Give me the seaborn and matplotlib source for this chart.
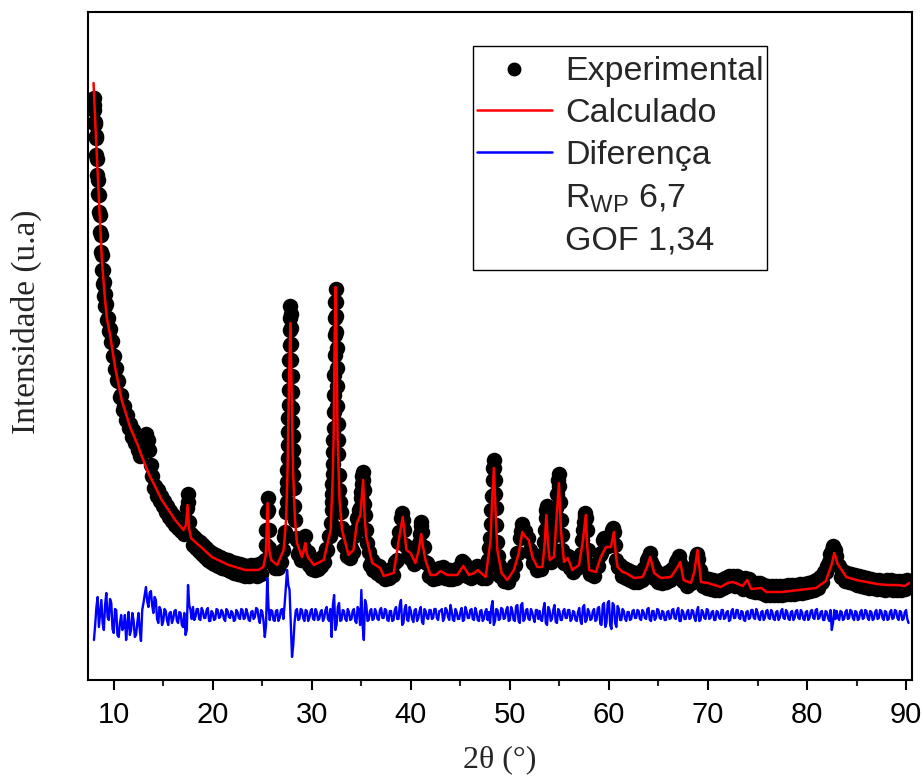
import numpy as np
import pandas as pd
import matplotlib
matplotlib.use("Agg")
import matplotlib.pyplot as plt
from matplotlib.lines import Line2D
from matplotlib.patches import Rectangle
from matplotlib.ticker import MultipleLocator
import seaborn as sns

# ---------------- data (intensity in arbitrary units) ----------------
calc_2theta = [7.96, 8.2, 8.47, 8.8, 9.12, 9.3, 9.63, 10.13, 10.8, 11.65, 12.5, 12.66, 13.5, 14.85,
               16.2, 17.04, 17.3, 17.45, 17.6, 17.8, 18.55, 18.7, 19.9, 21.6, 23.3, 24.6, 25.1, 25.35,
               25.53, 25.7, 25.9, 26.5, 27.15, 27.4, 27.55, 27.7, 27.83, 27.95, 28.1, 28.3, 28.5, 29.0,
               29.2, 29.34, 29.45, 29.6, 30.2, 31.2, 31.9, 32.1, 32.2, 32.3, 32.4, 32.5, 32.6, 32.8,
               33.05, 33.7, 34.2, 34.55, 34.9, 35.18, 35.35, 35.5, 36.1, 36.9, 37.26, 38.27, 38.78,
               39.18, 39.55, 39.96, 40.46, 40.8, 41.04, 41.2, 41.47, 41.98, 42.5, 43.0, 43.67, 44.68,
               45.29, 45.86, 46.4, 46.77, 47.2, 47.55, 48.05, 48.2, 48.38, 48.55, 48.73, 49.16, 49.74,
               50.4, 50.9, 51.25, 51.58, 51.9, 52.27, 52.77, 53.28, 53.5, 53.68, 53.85, 54.02, 54.45,
               54.7, 54.95, 55.15, 55.46, 55.86, 56.3, 56.98, 57.38, 57.66, 57.8, 58.0, 58.68, 59.18,
               59.7, 60.2, 60.5, 60.7, 60.87, 61.37, 61.7, 62.55, 63.4, 63.84, 64.16, 64.57, 65.24,
               66.26, 66.93, 67.2, 67.53, 68.27, 68.6, 68.95, 69.3, 69.96, 70.64, 71.3, 71.98, 72.49,
               72.8, 73.5, 73.96, 74.37, 75.4, 75.9, 77.45, 79.17, 80.9, 81.9, 82.5, 82.75, 83.1,
               83.96, 84.98, 86.0, 87.05, 88.1, 89.1, 89.9, 90.3]
calc_int = [597, 543, 487, 420, 380, 362, 345, 313, 280, 253, 233, 228, 207, 180,
            160, 150, 155, 175, 152, 142, 135, 134, 123, 115, 110, 110, 113, 125,
            177, 130, 120, 115, 130, 160, 210, 300, 357, 290, 210, 160, 137, 123,
            130, 137, 128, 123, 115, 120, 150, 200, 243, 340, 393, 330, 243, 180,
            150, 125, 130, 157, 165, 200, 160, 143, 117, 112, 104, 107, 140,
            163, 130, 127, 117, 130, 146, 135, 120, 105, 105, 109, 105, 105,
            114, 105, 107, 110, 106, 103, 140, 180, 212, 170, 130, 107, 100,
            110, 127, 148, 143, 140, 123, 113, 113, 135, 165, 135, 120, 123,
            160, 197, 150, 118, 122, 110, 115, 140, 165, 135, 110, 108, 123,
            133, 133, 148, 125, 113, 108, 107, 102, 103, 113, 123, 107, 102,
            103, 113, 118, 100, 97, 107, 130, 98, 97, 95, 93, 97, 98,
            97, 94, 100, 91, 92, 88, 88, 90, 92, 99, 116, 127, 116,
            103, 100, 98, 96, 95, 95, 94, 97]

exp_2theta = [
    7.97, 8.0, 8.04, 8.08, 8.12, 8.16, 8.2, 8.25, 8.3, 8.35, 8.4, 8.45, 8.5, 8.55, 8.6, 8.65,
    8.7, 8.75, 8.8, 8.85, 8.9, 8.95, 9.0, 9.05, 9.1, 9.15, 9.2, 9.3, 9.4, 9.5, 9.6, 9.7,
    9.8, 9.9, 10.0, 10.1, 10.2,
    10.3, 10.45, 10.6, 10.75, 10.9, 11.05, 11.2, 11.35, 11.5, 11.65, 11.8, 11.95, 12.1, 12.25,
    12.4, 12.55, 12.7, 12.85, 13.0, 13.15, 13.3, 13.45, 13.6, 13.75, 13.9, 14.05, 14.2, 14.35,
    14.5, 14.65, 14.8, 14.95, 15.1, 15.25, 15.4, 15.55, 15.7, 15.85, 16.0, 16.15, 16.3, 16.45,
    16.6, 16.75, 16.9, 17.05,
    17.2, 17.3, 17.38, 17.45, 17.52, 17.6, 17.7,
    17.85, 18.0, 18.15, 18.3, 18.45, 18.6, 18.75, 18.9, 19.05, 19.2, 19.35, 19.5, 19.65, 19.8,
    19.95, 20.1, 20.3, 20.5, 20.7, 20.9, 21.1, 21.3, 21.5, 21.7, 21.9, 22.1, 22.3, 22.5, 22.7,
    22.9, 23.1, 23.3, 23.5, 23.7, 23.9, 24.1, 24.3, 24.5, 24.7, 24.9, 25.1,
    25.25, 25.35, 25.42, 25.47, 25.53, 25.58, 25.63, 25.7, 25.8, 25.95,
    26.1, 26.25, 26.4, 26.55, 26.7, 26.85, 27.0, 27.1, 27.2, 27.3, 27.4,
    27.45, 27.475, 27.5, 27.525, 27.55, 27.575, 27.6, 27.625, 27.65, 27.675, 27.7, 27.725,
    27.75, 27.775, 27.8, 27.825, 27.85, 27.875, 27.9, 27.925, 27.95, 27.975, 28.0, 28.025,
    28.05, 28.075, 28.1, 28.125, 28.15, 28.2,
    28.3, 28.4, 28.5, 28.65, 28.8, 28.95, 29.1, 29.25, 29.35, 29.45, 29.6, 29.75, 29.9, 30.05,
    30.2, 30.35, 30.5, 30.65, 30.8, 30.95, 31.1, 31.25, 31.4, 31.55, 31.7, 31.8, 31.9,
    32.0, 32.025, 32.05, 32.075, 32.1, 32.125, 32.15, 32.175, 32.2, 32.225, 32.25, 32.275,
    32.3, 32.325, 32.35, 32.375, 32.4, 32.425, 32.45, 32.475, 32.5, 32.525, 32.55, 32.575,
    32.6, 32.625, 32.65, 32.7, 32.75, 32.8,
    32.9, 33.0, 33.1, 33.25, 33.4, 33.55, 33.7, 33.85, 34.0, 34.15, 34.3, 34.45, 34.55, 34.65,
    34.75, 34.85, 34.95,
    35.0, 35.05, 35.1, 35.15, 35.2, 35.25, 35.3, 35.35, 35.45, 35.6,
    35.75, 35.9, 36.05, 36.2, 36.4, 36.6, 36.8, 37.0, 37.2, 37.4, 37.6, 37.8, 38.0, 38.2,
    38.4, 38.55, 38.7,
    38.85, 39.0, 39.1, 39.2, 39.3, 39.45, 39.6, 39.75, 39.9, 40.05, 40.2, 40.35, 40.5, 40.65,
    40.8, 40.9, 40.98, 41.05, 41.15, 41.3, 41.45,
    41.6, 41.8, 42.0, 42.2, 42.4, 42.6, 42.8, 43.0, 43.2, 43.4, 43.6, 43.8, 44.0, 44.2, 44.4,
    44.6, 44.8, 45.0, 45.2, 45.35, 45.5, 45.7, 45.9, 46.1, 46.3, 46.5, 46.7, 46.85, 47.0,
    47.2, 47.4, 47.55,
    47.7, 47.8, 47.9, 47.97, 48.05, 48.12, 48.18, 48.25, 48.3, 48.35, 48.4, 48.45, 48.5,
    48.55, 48.62, 48.7, 48.8, 48.9,
    49.05, 49.2, 49.4, 49.6, 49.8, 50.0, 50.2, 50.4, 50.55, 50.7, 50.85, 51.0, 51.15, 51.25,
    51.4, 51.55, 51.7, 51.85, 52.0, 52.15, 52.3, 52.5, 52.7, 52.9, 53.1,
    53.25, 53.35, 53.45, 53.52, 53.6, 53.65, 53.7, 53.75, 53.8, 53.9, 54.0, 54.15, 54.3,
    54.45, 54.55, 54.62, 54.7, 54.77, 54.85, 54.92, 55.0, 55.07, 55.15, 55.22, 55.3,
    55.45, 55.6, 55.75, 55.9, 56.05, 56.2, 56.4, 56.6, 56.8, 57.0, 57.15,
    57.3, 57.4, 57.48, 57.55, 57.62, 57.68, 57.75, 57.85, 57.95,
    58.1, 58.3, 58.5, 58.7, 58.9, 59.05, 59.2, 59.35, 59.5, 59.65, 59.8, 59.95, 60.1, 60.25,
    60.35, 60.42, 60.5, 60.6, 60.75, 60.9,
    61.1, 61.3, 61.5, 61.7, 61.9, 62.1, 62.3, 62.5, 62.7, 62.9, 63.1, 63.3, 63.5, 63.65, 63.8,
    63.95, 64.1, 64.25, 64.4, 64.55, 64.75, 64.95, 65.15, 65.35, 65.55, 65.75, 65.95, 66.15,
    66.35, 66.55, 66.75, 66.9, 67.05, 67.2, 67.35, 67.5, 67.7, 67.9, 68.1, 68.3, 68.45, 68.6,
    68.75, 68.9, 69.0, 69.15, 69.3, 69.5, 69.7, 69.9, 70.1, 70.3, 70.5, 70.7, 70.9, 71.1,
    71.3, 71.5, 71.7, 71.9, 72.1, 72.3, 72.5, 72.7, 72.9, 73.1, 73.3, 73.5, 73.7, 73.9, 74.1,
    74.3, 74.5, 74.7, 74.9, 75.1, 75.3, 75.5, 75.7, 75.9, 76.1, 76.3, 76.5, 76.7, 76.9, 77.1,
    77.3, 77.5, 77.7, 77.9, 78.1, 78.3, 78.5, 78.7, 78.9, 79.1, 79.3, 79.5, 79.7, 79.9, 80.1,
    80.3, 80.5, 80.7, 80.9, 81.1, 81.3, 81.5, 81.7, 81.9, 82.05, 82.2, 82.35, 82.5, 82.65,
    82.8, 82.95, 83.1, 83.25, 83.45, 83.65, 83.85, 84.05, 84.25, 84.45, 84.65, 84.85, 85.05,
    85.25, 85.45, 85.65, 85.85, 86.05, 86.25, 86.45, 86.65, 86.85, 87.05, 87.25, 87.45, 87.65,
    87.85, 88.05, 88.25, 88.45, 88.65, 88.85, 89.05, 89.25, 89.45, 89.65, 89.85, 90.05, 90.25]
exp_int = [
    582, 575, 570, 558, 556, 544, 542, 525, 521, 505, 500, 486, 485, 468, 465, 448,
    445, 428, 425, 410, 410, 396, 398, 384, 386, 374, 376, 360, 362, 349, 351, 338,
    339, 324, 324, 311, 312,
    300, 299, 283, 285, 270, 274, 260, 265, 252, 256, 243, 250, 237, 241,
    230, 235, 224, 230, 236, 244, 246, 240, 230, 215, 204, 192, 194, 184,
    190, 179, 184, 174, 179, 168, 174, 163, 169, 159, 165, 155, 162, 152,
    158, 149, 155, 146,
    148, 158, 172, 186, 178, 158, 146,
    146, 135, 143, 132, 140, 129, 138, 126, 135, 123, 132, 120, 129, 118,
    127, 116, 125, 114, 123, 112, 121, 111, 120, 109, 118, 107, 117, 106, 116,
    105, 115, 104, 114, 104, 115, 105, 115, 104, 116, 106, 118,
    120, 135, 150, 168, 182, 170, 150, 132, 122, 118,
    120, 112, 119, 112, 121, 118, 129, 130, 143, 148, 168,
    178, 190, 198, 210, 222, 235, 248, 262, 275, 290, 305, 320,
    335, 350, 362, 374, 366, 352, 336, 320, 304, 288, 272, 258,
    244, 230, 218, 205, 192, 174,
    160, 142, 140, 126, 130, 120, 132, 132, 144, 128, 128, 115, 122, 111,
    119, 110, 120, 111, 121, 114, 124, 118, 131, 130, 144, 144, 157,
    170, 178, 186, 196, 206, 216, 228, 240, 252, 268, 285, 305,
    325, 345, 362, 378, 391, 378, 364, 348, 332, 312, 294, 274,
    256, 240, 226, 205, 190, 178,
    168, 152, 150, 134, 136, 124, 130, 122, 132, 128, 144, 150, 162, 160,
    170, 172, 182,
    188, 196, 204, 208, 200, 190, 176, 165, 150, 137,
    128, 115, 120, 110, 116, 107, 114, 104, 110, 101, 109, 102, 111, 105,
    118, 120, 138,
    148, 162, 167, 160, 150, 135, 133, 124, 130, 121, 126, 116, 124, 122,
    137, 146, 154, 158, 148, 133, 118,
    117, 104, 110, 101, 109, 102, 112, 106, 113, 102, 109, 101, 110, 101, 109,
    102, 112, 108, 119, 117, 115, 104, 110, 102, 111, 104, 114, 110, 112,
    102, 108, 102,
    112, 120, 132, 142, 156, 170, 184, 200, 212, 220, 212, 200, 186,
    172, 155, 138, 124, 115,
    104, 108, 99, 104, 98, 107, 105, 115, 115, 127, 127, 142, 149, 156,
    147, 149, 142, 142, 130, 127, 117, 119, 110, 116, 111,
    118, 126, 138, 150, 162, 170, 174, 166, 155, 138, 125, 118, 125,
    130, 145, 158, 172, 186, 200, 206, 194, 178, 160, 145, 130,
    117, 124, 118, 124, 112, 116, 108, 117, 112, 123, 126,
    140, 150, 158, 164, 167, 162, 150, 130, 116,
    106, 111, 104, 113, 114, 125, 127, 140, 142, 137, 141, 134, 140, 145,
    150, 152, 148, 135, 120, 113,
    115, 104, 112, 102, 110, 100, 108, 98, 107, 98, 108, 100, 112, 110, 120,
    122, 127, 118, 114, 102, 109, 98, 106, 97, 106, 98, 108, 100,
    111, 107, 118, 120, 124, 117, 112, 99, 105, 94, 103, 97, 108, 114,
    122, 126, 121, 110, 104, 94, 102, 92, 101, 91, 100, 90, 99, 90,
    100, 92, 102, 94, 104, 96, 104, 94, 104, 94, 101, 91, 102, 100, 101,
    89, 97, 88, 97, 88, 97, 87, 95, 85, 94, 85, 94, 85, 94, 85,
    94, 85, 94, 86, 95, 86, 95, 86, 95, 87, 96, 87, 96, 88, 97,
    89, 98, 90, 100, 92, 103, 98, 108, 108, 114, 118, 126, 130, 134,
    130, 124, 115, 114, 103, 109, 99, 107, 98, 106, 97, 105, 95,
    104, 94, 103, 93, 102, 92, 101, 92, 100, 91, 100, 91, 99,
    90, 100, 91, 100, 90, 99, 90, 99, 90, 99, 91, 100, 96]

# difference curve (exp - calc): values on the 0.25° grid and in between (0.125° offset)
diff_start = 8.0
diff_step = 0.25
diff_vals = [
    -25, 8, -12, 15, -15, 22, -5, 12, -18, 5, -22, 0, -12, -25, 3, -15, -5, -20, 2, -26,
    12, 28, 8, 24, 2, 15, -8, 5, -6, 4, -10, 3, -4, 5, -8, 2, -12, -20, 30, 5,
    8, -2, 6, -5, 4, -3, 7, -6, 2, -4, 5, -2, 3, -6, 4, -3, 2, -5, 3, -4,
    5, -3, 2, -6, 4, -2, 6, -8, 3, -22, 37, -5, 4, -6, 5, -3, 6, 10, 45, 25,
    -42, -8, 6, -4, 5, -6, 4, -3, 6, -5, 3, -4, 5, -3, 8, -6, -22, 20, -10, 12,
    -5, 4, -6, 3, -4, 6, -8, 5, 25, -25, 10, -5, 6, -4, 3, -5, 7, -3, 5, -6,
    4, -5, 8, -4, 15, -8, 10, -6, 4, -7, 6, -3, 8, -9, 4, -4, 5, -3, 6, -5,
    4, -6, 7, -2, 10, -5, 6, -4, 3, -6, 8, -3, 5, -4, 7, -5, 4, -6, 3, -5,
    -8, 14, -6, 5, -4, 6, -3, 8, -5, 4, -6, 10, -8, 12, -4, 6, -5, 3, -7, 5,
    4, -6, 12, -10, 5, -4, 10, -8, 4, -5, 6, -3, 5, -4, 3, -6, 7, -9, 10, -5,
    3, -4, 6, -5, 8, -10, 12, -8, 14, -14, 10, -12, 6, -5, 4, -6, 3, -4, 5, -3,
    4, -5, 3, -4, 7, -6, 4, -3, 5, -4, 3, -5, 4, -3, 6, -4, 7, -6, 3, -4,
    5, -3, 4, -6, 8, -5, 3, -4, 5, -3, 4, -5, 3, -4, 5, -3, 4, -5, 6, -3,
    5, -4, 3, -6, 4, -3, 5, -4, 3, -5, 4, -3, 5, -4, 3, -5, 4, -3, 6, -4,
    3, -5, 4, -3, 5, -4, 3, -5, 4, -3, 5, -4, 6, -3, 4, -5, 3, -6, -15, 5,
    4, -5, 3, -4, 5, -3, 4, -5, 3, -4, 5, -3, 4, -5, 3, -4, 5, -3, 4, -5,
    3, -4, 5, -3, 4, -5, 3, -4, 5, -8]
diff_mid_vals = [
    -10, 18, 2, -8, 10, -2, 16, -14, 6, -20, -8, -15, 0, -10, -20, 2, -22, -8, -15, 5,
    20, 14, 22, 10, 18, -4, 8, -10, 6, -5, 2, -8, 4, -6, 3, -10, 2, -15, 10, -4,
    -5, 6, -4, 7, -3, 5, -6, 4, -5, 6, -3, 5, -4, 6, -2, 4, -6, 5, -3, 6,
    -4, 6, -5, 3, -4, 7, -3, 5, -6, -10, 8, 5, -5, 4, -6, 5, -4, 28, 30, -10,
    -30, 4, -5, 6, -3, 5, -6, 4, -4, 6, -5, 3, -6, 5, -4, 6, 10, -15, 8, -6,
    5, -4, 6, -5, 4, -6, 8, -10, -10, 15, -6, 4, -5, 6, -4, 5, -3, 6, -5, 4,
    -6, 5, -4, 10, -10, 6, -5, 8, -4, 5, -6, 4, -7, 6, -3, 5, -4, 6, -3, 4,
    6, -3, 5, -5, 4, -6, 3, -4, 7, -5, 4, -3, 6, -5, 3, -6, 5, -4, 6, 3,
    8, -10, 6, -5, 7, -4, 5, -6, 8, -5, 9, -6, 10, -6, 5, -4, 6, -3, 5, -4,
    -5, 6, -8, 8, -6, 5, -7, 6, -5, 4, -3, 5, -6, 4, -5, 3, -6, 8, -7, 6,
    -5, 4, -6, 7, -9, 10, -12, 12, -10, 12, -8, 9, -5, 6, -4, 3, -5, 4, -3, 5,
    -4, 5, -3, 6, -5, 4, -5, 6, -3, 4, -5, 3, -4, 5, -3, 4, -6, 5, -4, 3,
    -4, 5, -3, 4, -6, 5, -3, 6, -4, 3, -5, 4, -3, 5, -4, 3, -6, 4, -3, 5,
    -3, 4, -5, 3, -4, 5, -3, 6, -4, 3, -5, 4, -3, 5, -4, 3, -5, 4, -3, 5,
    -4, 3, -5, 4, -3, 5, -4, 3, -5, 4, -3, 5, -4, 3, -5, 4, -3, 5, -8, -4,
    -3, 4, -5, 3, -4, 5, -3, 4, -5, 3, -4, 5, -3, 4, -5, 3, -4, 5, -3, 4,
    -5, 3, -4, 5, -3, 4, -5, 3, -4]
DIFF_OFFSET = 65

x_ticks = [10, 20, 30, 40, 50, 60, 70, 80, 90]
labels = ["Experimental", "Calculado", "Diferença", r"R$_{\mathrm{WP}}$ 6,7", "GOF 1,34"]

# ---------------- frames ----------------
n = min(len(exp_2theta), len(exp_int))
df_exp = pd.DataFrame({"x": exp_2theta[:n], "y": exp_int[:n]})
df_calc = pd.DataFrame({"x": calc_2theta, "y": calc_int})
d_x, d_y = [], []
for i, v in enumerate(diff_vals):
    d_x.append(diff_start + diff_step * i)
    d_y.append(v + DIFF_OFFSET)
    if i < len(diff_mid_vals):
        d_x.append(diff_start + diff_step * i + diff_step / 2)
        d_y.append(diff_mid_vals[i] + DIFF_OFFSET)
df_diff = pd.DataFrame({"x": d_x, "y": d_y})

# ---------------- style ----------------
sns.set_style("white")
plt.rcParams["font.family"] = ["Liberation Sans", "DejaVu Sans"]
plt.rcParams["mathtext.fontset"] = "custom"
plt.rcParams["mathtext.rm"] = "Liberation Sans"
plt.rcParams["mathtext.it"] = "Liberation Sans:italic"

fig = plt.figure(figsize=(9.23, 7.81), dpi=100)
ax = fig.add_axes([88 / 923, 101 / 781, 824 / 923, 668 / 781])

sns.scatterplot(data=df_exp, x="x", y="y", ax=ax, s=125, color="black",
                edgecolor="black", linewidth=0, zorder=2, legend=False)
sns.lineplot(data=df_calc, x="x", y="y", ax=ax, color="#ff0000", linewidth=1.8,
             zorder=3, legend=False, sort=False)
sns.lineplot(data=df_diff, x="x", y="y", ax=ax, color="#0000ff", linewidth=1.7,
             zorder=3, legend=False, sort=False)

ax.set_xlim(7.4, 90.6)
ax.set_ylim(0, 668)
ax.set_yticks([])
ax.set_xticks(x_ticks)
ax.xaxis.set_minor_locator(MultipleLocator(5))
ax.tick_params(axis="x", which="major", direction="out", length=7, width=1.5,
               bottom=True, labelsize=21, pad=8, colors="black")
ax.tick_params(axis="x", which="minor", direction="out", length=4, width=1.5,
               bottom=True)
for sp in ax.spines.values():
    sp.set_visible(True)
    sp.set_color("black")
    sp.set_linewidth(1.5)

ax.set_xlabel("2θ (°)", fontfamily="Liberation Serif", fontsize=23)
ax.xaxis.set_label_coords(0.5, -0.097)
ax.set_ylabel("Intensidade (u.a)", fontfamily="Liberation Serif", fontsize=24)
ax.yaxis.set_label_coords(-0.056, 0.536)

handles = [
    Line2D([], [], linestyle="none", marker="o", color="black", markersize=9),
    Line2D([], [], color="#ff0000", linewidth=1.8),
    Line2D([], [], color="#0000ff", linewidth=1.8),
    Line2D([], [], linestyle="none"),
    Line2D([], [], linestyle="none"),
]
leg = ax.legend(handles, labels, loc="upper left", bbox_to_anchor=(0.4721, 0.9334),
                borderaxespad=0, fontsize=24.5, frameon=False, handlelength=2.2,
                handletextpad=0.38, labelspacing=0.32, borderpad=0, numpoints=1)
ax.add_patch(Rectangle((0.4672, 0.6138), 0.3568, 0.3353, transform=ax.transAxes,
                       fill=False, edgecolor="black", linewidth=1.0, zorder=5))

fig.savefig("out.png", dpi=100)
